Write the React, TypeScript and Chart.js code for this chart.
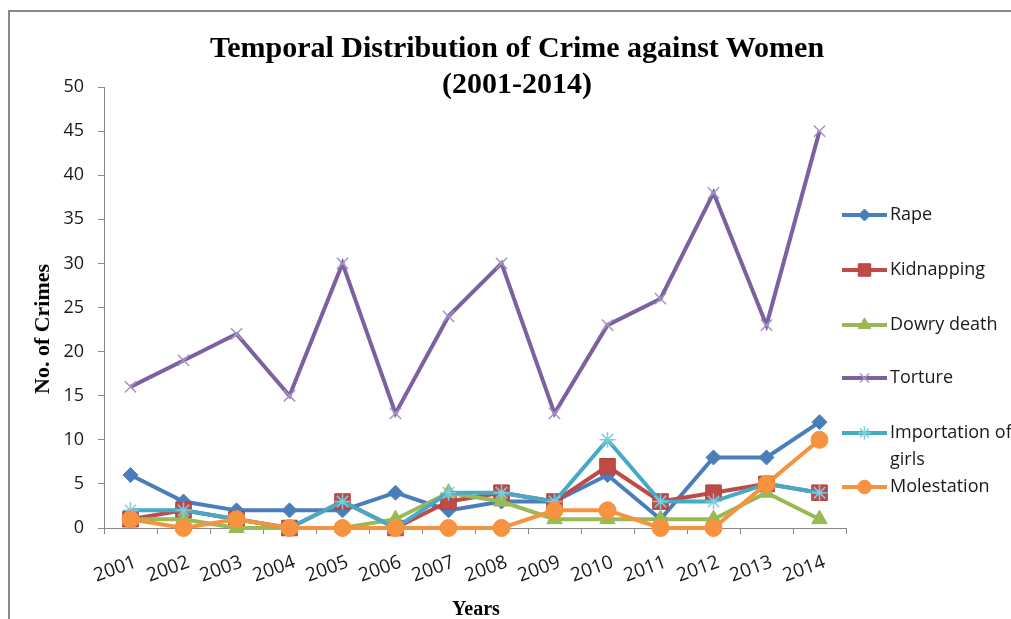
import React, { useEffect, useRef } from 'react';
import { Chart, registerables } from 'chart.js';
import { drawPoint } from 'chart.js/helpers';

Chart.register(...registerables);

const years = ['2001', '2002', '2003', '2004', '2005', '2006', '2007', '2008', '2009', '2010', '2011', '2012', '2013', '2014'];
const rape = [6, 3, 2, 2, 2, 4, 2, 3, 3, 6, 1, 8, 8, 12];
const kidnapping = [1, 2, 1, 0, 3, 0, 3, 4, 3, 7, 3, 4, 5, 4];
const dowryDeath = [1, 1, 0, 0, 0, 1, 4, 3, 1, 1, 1, 1, 4, 1];
const torture = [16, 19, 22, 15, 30, 13, 24, 30, 13, 23, 26, 38, 23, 45];
const importationOfGirls = [2, 2, 1, 0, 3, 0, 4, 4, 3, 10, 3, 3, 5, 4];
const molestation = [1, 0, 1, 0, 0, 0, 0, 0, 2, 2, 0, 0, 5, 10];

const seriesNames = ['Rape', 'Kidnapping', 'Dowry death', 'Torture', 'Importation of girls', 'Molestation'];
const legendLines = [['Rape'], ['Kidnapping'], ['Dowry death'], ['Torture'], ['Importation of', 'girls'], ['Molestation']];

const titleLines = ['Temporal Distribution of Crime against Women', '(2001-2014)'];
const yTitle = 'No. of Crimes';
const xTitle = 'Years';

const yMin = 0;
const yMax = 50;
const yStep = 5;

const FONT = "'Open Sans', 'Noto Sans', sans-serif";
const SERIF = "'Liberation Serif', 'Times New Roman', serif";

const legendPlugin = {
  id: 'sideLegend',
  afterDraw(chart: any) {
    const ctx = chart.ctx as CanvasRenderingContext2D;
    const x0 = 842;
    const x1 = 887;
    const tx = 890;
    const ys = [215, 270, 325, 378, 433, 487];
    ctx.save();
    chart.data.datasets.forEach((ds: any, i: number) => {
      const y = ys[i];
      ctx.beginPath();
      ctx.strokeStyle = ds.borderColor;
      ctx.lineWidth = ds.borderWidth;
      ctx.moveTo(x0, y);
      ctx.lineTo(x1, y);
      ctx.stroke();
      ctx.fillStyle = ds.pointBackgroundColor;
      ctx.strokeStyle = ds.pointBorderColor;
      ctx.lineWidth = ds.pointBorderWidth;
      drawPoint(ctx, { pointStyle: ds.pointStyle, rotation: 0, borderWidth: ds.pointBorderWidth, radius: ds.pointRadius * 0.8 } as any, (x0 + x1) / 2, y);
      ctx.fillStyle = '#1a1a1a';
      ctx.font = `18px ${FONT}`;
      ctx.textBaseline = 'middle';
      ctx.textAlign = 'left';
      legendLines[i].forEach((t, j) => ctx.fillText(t, tx, y + j * 27));
    });
    ctx.restore();
  },
};

export default function App() {
  const ref = useRef<HTMLCanvasElement>(null);

  useEffect(() => {
    if (!ref.current) return;
    const mk = (i: number, data: number[], color: string, style: string, radius: number, pBg: string, pBorder: string, pbw: number, order: number) => ({
      label: seriesNames[i],
      data,
      borderColor: color,
      backgroundColor: color,
      borderWidth: 4,
      pointStyle: style,
      pointRadius: radius,
      pointBackgroundColor: pBg,
      pointBorderColor: pBorder,
      pointBorderWidth: pbw,
      tension: 0,
      clip: false as any,
      order,
    });
    const chart = new Chart(ref.current, {
      type: 'line',
      data: {
        labels: years,
        datasets: [
          mk(0, rape, '#4A7EBB', 'rectRot', 7.5, '#4A7EBB', '#4A7EBB', 1, 5),
          mk(1, kidnapping, '#BE4B48', 'rect', 11, '#BE4B48', '#B3403D', 1, 4),
          mk(2, dowryDeath, '#98B954', 'triangle', 9, '#98B954', '#98B954', 1, 3),
          mk(3, torture, '#7D60A0', 'crossRot', 8, '#A594C6', '#A594C6', 1.5, 2),
          mk(4, importationOfGirls, '#46AAC5', 'star', 8, '#7FCCE0', '#7FCCE0', 1.5, 1),
          mk(5, molestation, '#F69240', 'circle', 8.5, '#F69240', '#F69240', 1, 0),
        ] as any,
      },
      options: {
        animation: false,
        responsive: false,
        layout: { padding: { left: 0, top: 87, right: 165, bottom: 0 } },
        plugins: {
          legend: { display: false },
          title: { display: false },
          tooltip: { enabled: false },
        },
        scales: {
          x: {
            type: 'category',
            offset: true,
            afterFit: (s: any) => { s.height = 91; },
            grid: { display: true, drawOnChartArea: false, drawTicks: true, tickLength: 6, color: '#868686', offset: true },
            border: { display: true, color: '#868686', width: 1 },
            ticks: { color: '#1a1a1a', font: { family: FONT, size: 19 }, minRotation: 20, maxRotation: 20, padding: 17, labelOffset: 5, autoSkip: false },
          },
          y: {
            min: yMin,
            max: yMax,
            afterFit: (s: any) => { s.width = 104; },
            grid: { display: true, drawOnChartArea: false, drawTicks: true, tickLength: 6, color: '#868686' },
            border: { display: true, color: '#868686', width: 1 },
            ticks: { stepSize: yStep, color: '#1a1a1a', font: { family: FONT, size: 18 }, padding: 14 },
          },
        },
      } as any,
      plugins: [legendPlugin],
    });
    return () => chart.destroy();
  }, []);

  return (
    <div style={{ position: 'absolute', left: 0, top: 0, width: 1011, height: 619, overflow: 'hidden', background: '#fff' }}>
      <div style={{ position: 'absolute', left: 8, top: 10, width: 1100, height: 700, borderLeft: '2px solid #8a8a8a', borderTop: '2px solid #8a8a8a' }} />
      <canvas ref={ref} width={1011} height={619} style={{ position: 'absolute', left: 0, top: 0 }} />
      <div style={{ position: 'absolute', left: 517, top: 29, transform: 'translateX(-50%)', textAlign: 'center', whiteSpace: 'nowrap', fontFamily: SERIF, fontWeight: 'bold', fontSize: 30, lineHeight: '36px', color: '#000' }}>
        {titleLines.map((t) => <div key={t}>{t}</div>)}
      </div>
      <div style={{ position: 'absolute', left: 42, top: 329, transform: 'translate(-50%, -50%) rotate(-90deg)', whiteSpace: 'nowrap', fontFamily: SERIF, fontWeight: 'bold', fontSize: 22, color: '#000' }}>
        {yTitle}
      </div>
      <div style={{ position: 'absolute', left: 476, top: 608, transform: 'translate(-50%, -50%)', whiteSpace: 'nowrap', fontFamily: SERIF, fontWeight: 'bold', fontSize: 20, color: '#000' }}>
        {xTitle}
      </div>
    </div>
  );
}
